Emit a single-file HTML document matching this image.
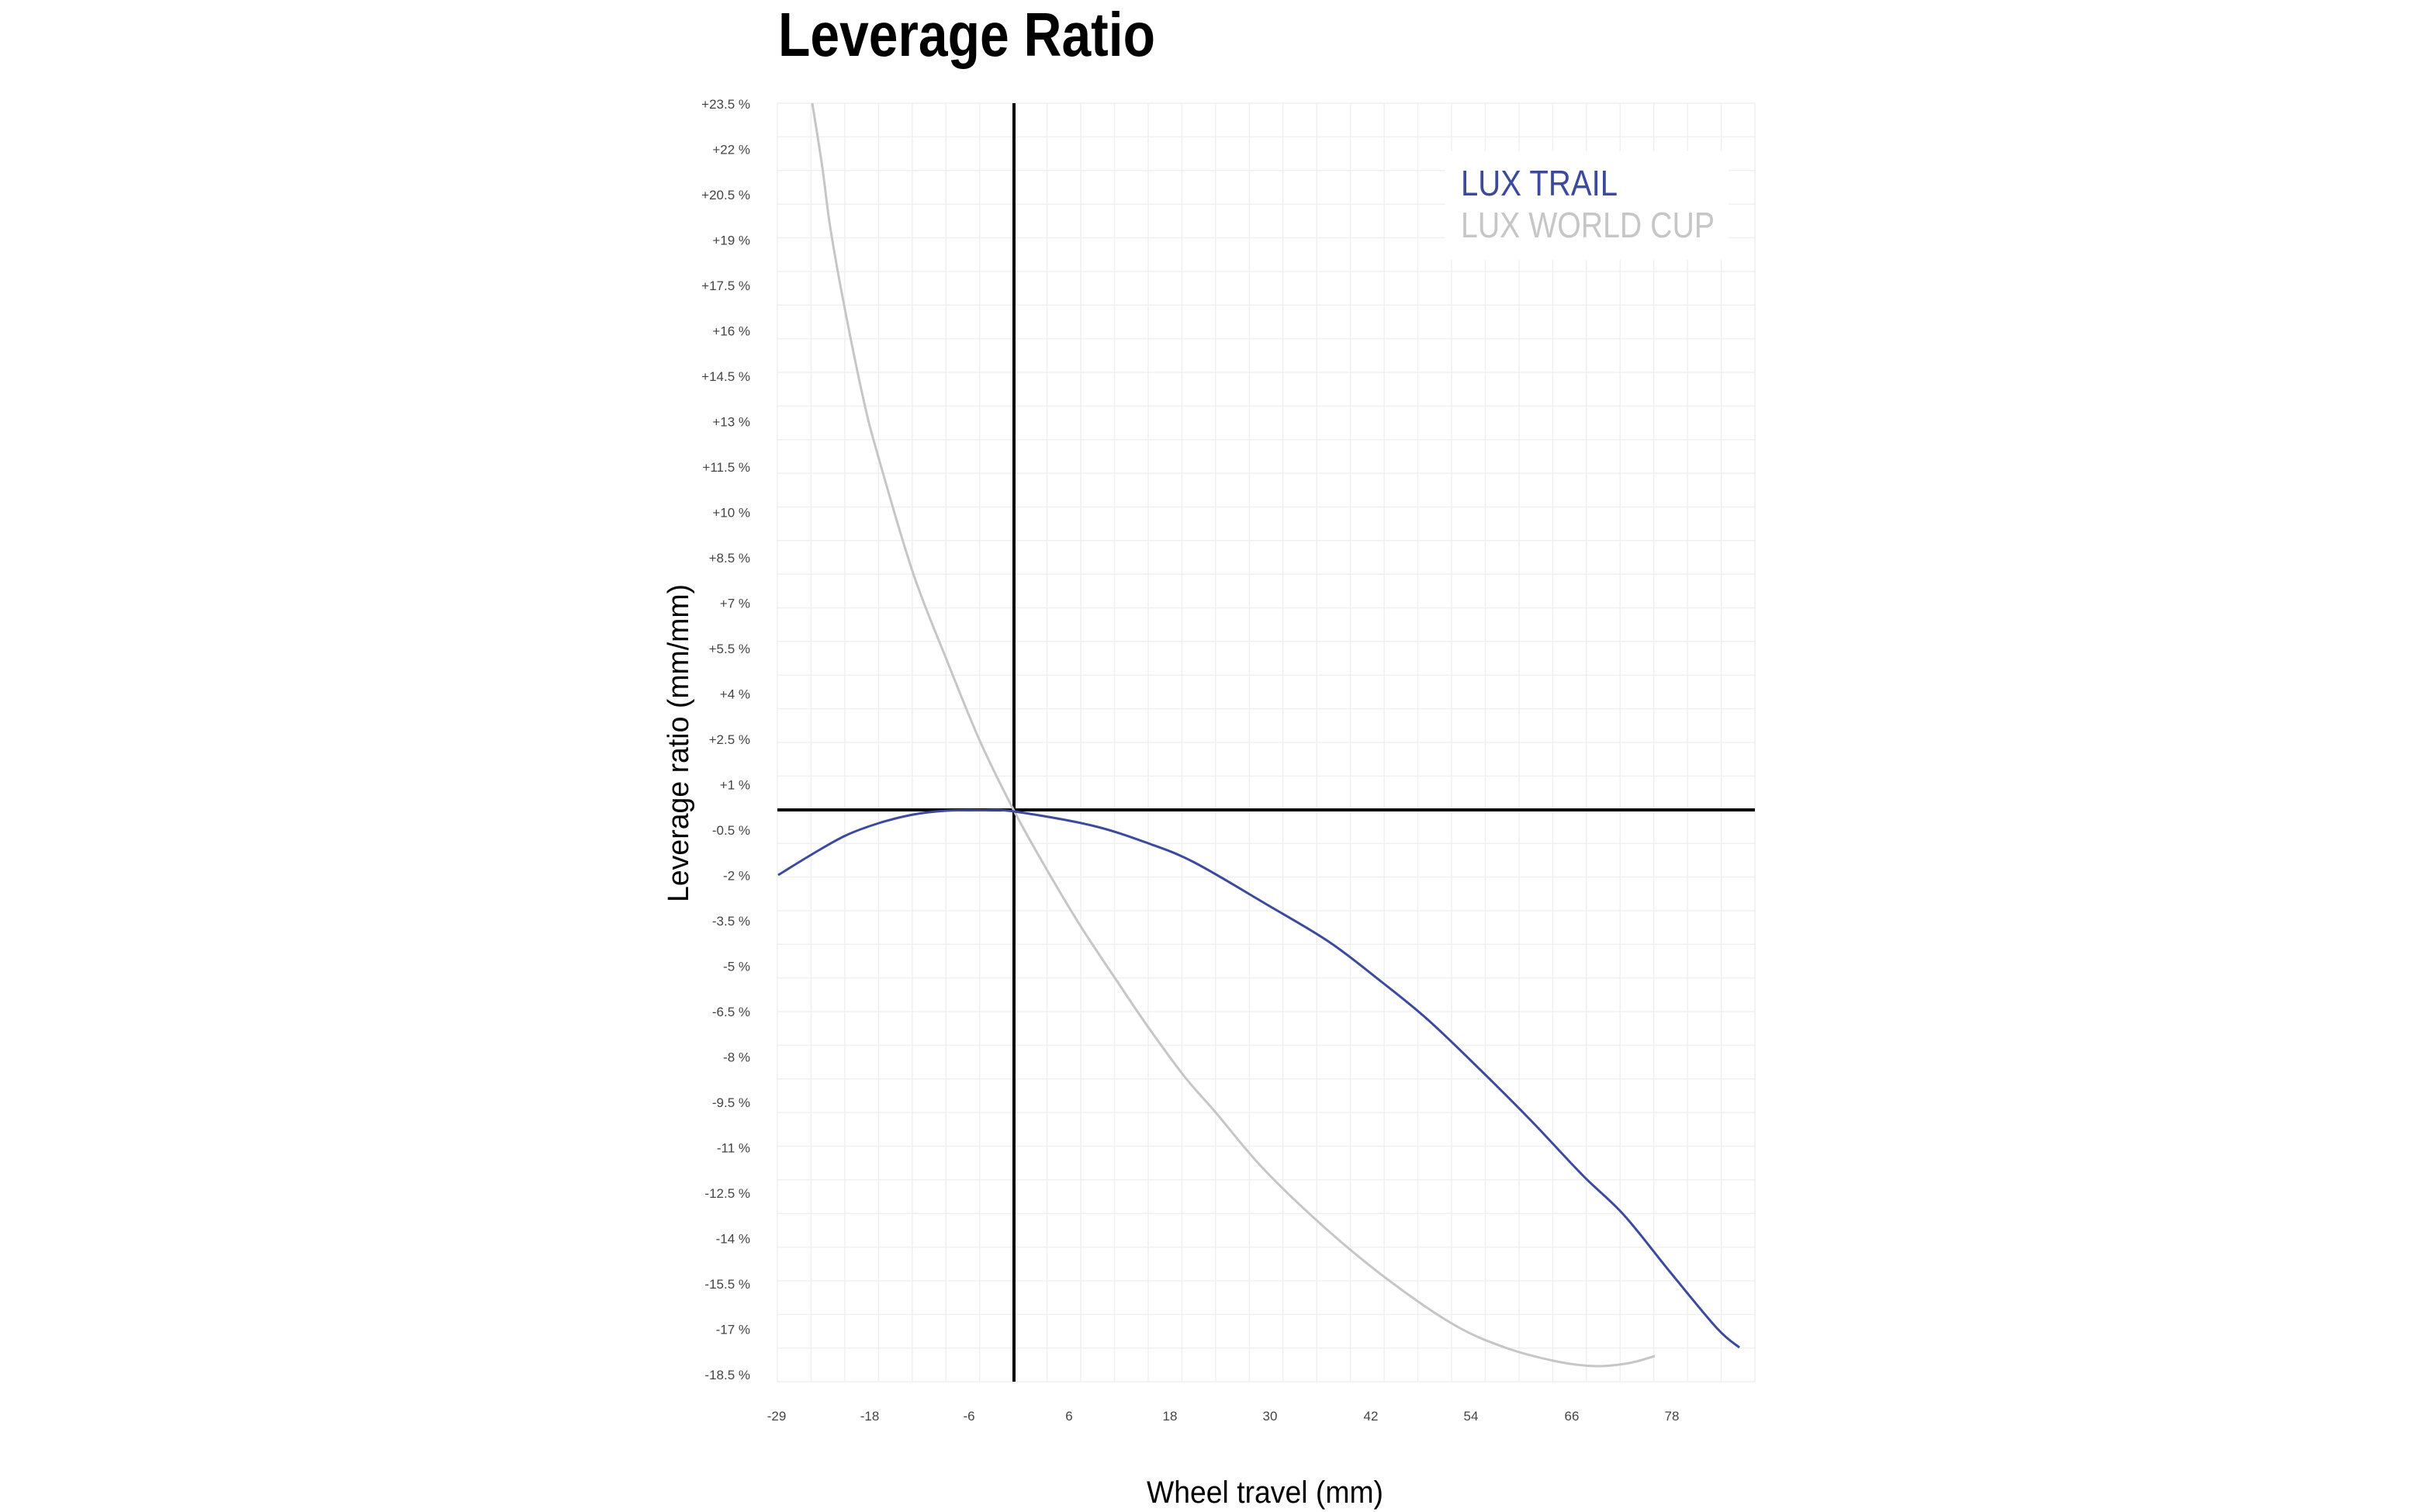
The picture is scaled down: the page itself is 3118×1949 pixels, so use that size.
<!DOCTYPE html>
<html><head><meta charset="utf-8"><style>
html,body{margin:0;padding:0;background:#fff;}
svg{display:block;}
text{font-family:"Liberation Sans",sans-serif;}
</style></head><body>
<svg width="3118" height="1949" viewBox="0 0 3118 1949" xmlns="http://www.w3.org/2000/svg">
<rect width="3118" height="1949" fill="#fff"/>
<text x="1003" y="72" font-size="80" font-weight="bold" fill="#000" textLength="486" lengthAdjust="spacingAndGlyphs">Leverage Ratio</text>
<g stroke="#f0f0f0" stroke-width="1.5" id="grid"></g>
<rect x="1863" y="195" width="365" height="140" fill="#fff"/>
<line x1="1307" y1="133" x2="1307" y2="1781" stroke="#000" stroke-width="4"/>
<line x1="1002" y1="1044" x2="2262" y2="1044" stroke="#000" stroke-width="4"/>
<path id="gray" fill="none" stroke="#c6c6c6" stroke-width="3"/>
<path id="blue" fill="none" stroke="#3c4a9c" stroke-width="3"/>
<text x="1883" y="252" font-size="46" fill="#3c4a9c" textLength="202" lengthAdjust="spacingAndGlyphs">LUX TRAIL</text>
<text x="1883" y="306" font-size="46" fill="#c6c6c6" textLength="327" lengthAdjust="spacingAndGlyphs">LUX WORLD CUP</text>
<g id="ylab" font-size="17" fill="#444" text-anchor="end"></g>
<g id="xlab" font-size="17" fill="#444" text-anchor="middle"></g>
<text transform="translate(887,958) rotate(-90)" font-size="38" fill="#000" text-anchor="middle" textLength="410" lengthAdjust="spacingAndGlyphs">Leverage ratio (mm/mm)</text>
<text x="1478" y="1937" font-size="40" fill="#000" textLength="305" lengthAdjust="spacingAndGlyphs">Wheel travel (mm)</text>
</svg>
<script>
var ns="http://www.w3.org/2000/svg";
var g=document.getElementById("grid");
for(var i=0;i<=38;i++){var y=133+i*43.37;var l=document.createElementNS(ns,"line");l.setAttribute("x1",1002);l.setAttribute("x2",2262);l.setAttribute("y1",y);l.setAttribute("y2",y);g.appendChild(l);}
for(var i=0;i<=29;i++){var x=1002+i*43.45;var l=document.createElementNS(ns,"line");l.setAttribute("y1",133);l.setAttribute("y2",1781);l.setAttribute("x1",x);l.setAttribute("x2",x);g.appendChild(l);}
var yl=document.getElementById("ylab");
for(var i=0;i<29;i++){var v=23.5-1.5*i;var s=(v>0?"+":"")+v+" %";var t=document.createElementNS(ns,"text");t.setAttribute("x",967);t.setAttribute("y",134+i*58.5+6);t.textContent=s;yl.appendChild(t);}
var xl=document.getElementById("xlab");
var xs=[[-29,1001],[-18,1121],[-6,1249],[6,1378],[18,1508],[30,1637],[42,1767],[54,1896],[66,2026],[78,2155]];
xs.forEach(function(p){var t=document.createElementNS(ns,"text");t.setAttribute("x",p[1]);t.setAttribute("y",1831);t.textContent=p[0];xl.appendChild(t);});
function cr(p){var d="M"+p[0][0]+","+p[0][1];for(var i=0;i<p.length-1;i++){var p0=p[i-1]||p[i],p1=p[i],p2=p[i+1],p3=p[i+2]||p2;
d+=" C"+(p1[0]+(p2[0]-p0[0])/6)+","+(p1[1]+(p2[1]-p0[1])/6)+" "+(p2[0]-(p3[0]-p1[0])/6)+","+(p2[1]-(p3[1]-p1[1])/6)+" "+p2[0]+","+p2[1];}return d;}
var gray=[[1047,133],[1060,216],[1070,292],[1087,388],[1113,515],[1133,592],[1177,739],[1220,850],[1263,955],[1307,1045],[1347,1117],[1393,1194],[1440,1265],[1480,1324],[1527,1388],[1567,1434],[1627,1505],[1707,1582],[1787,1648],[1873,1707],[1940,1737],[2007,1755],[2057,1761],[2100,1757],[2133,1748]];
var blue=[[1003,1128],[1047,1101],[1090,1077],[1133,1061],[1177,1050],[1220,1045],[1265,1044.5],[1307,1046],[1407,1064],[1480,1087],[1540,1112],[1633,1166],[1713,1214],[1780,1265],[1840,1314],[1907,1378],[1973,1444],[2040,1515],[2093,1566],[2153,1640],[2213,1712],[2242,1737]];
document.getElementById("gray").setAttribute("d",cr(gray));
document.getElementById("blue").setAttribute("d",cr(blue));
</script>
</body></html>
